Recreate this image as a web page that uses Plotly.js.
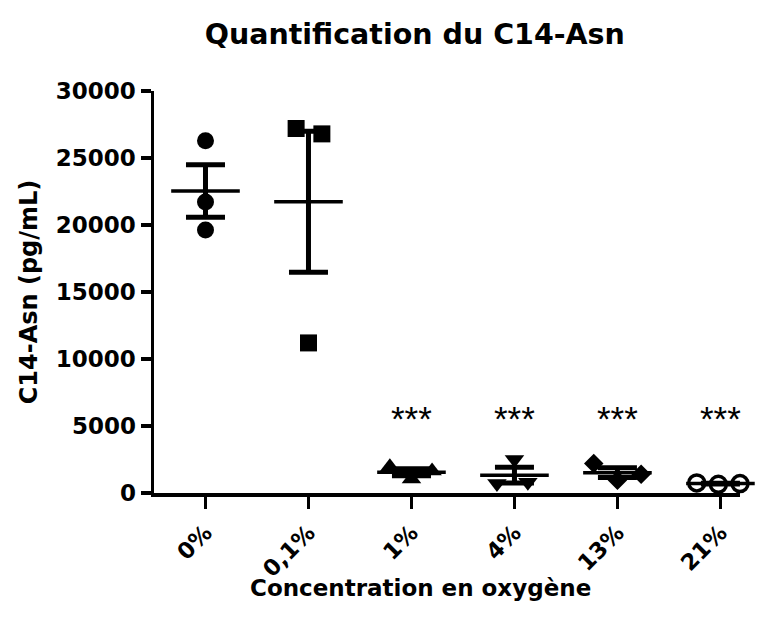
<!DOCTYPE html>
<html>
<head>
<meta charset="utf-8">
<script src="https://cdn.plot.ly/plotly-3.0.1.min.js"></script>
<style>html,body{margin:0;padding:0;background:#fff;}#chart{width:760px;height:623px;}</style>
</head>
<body>
<div id="chart"></div>
<script>
// ---- data ----
const categories = ['0%', '0,1%', '1%', '4%', '13%', '21%'];
const vals0  = [26280, 21710, 19620];
const vals01 = [27200, 26800, 11200];
const vals1  = [1950, 1050, 1650];
const vals4  = [700, 2500, 800];
const vals13 = [2200, 950, 1400];
const vals21 = [750, 650, 700];
const yTickVals = [0, 5000, 10000, 15000, 20000, 25000, 30000];
const yTickText = ['0', '5000', '10000', '15000', '20000', '25000', '30000'];
const starLabel = '***';
const starredGroups = ['1%', '4%', '13%', '21%'];

// ---- style / layout helpers ----
const groups = [vals0, vals01, vals1, vals4, vals13, vals21];
// horizontal spread of replicate points within a column (in category widths)
const spread = [[0, 0, 0], [-0.12, 0.13, 0], [-0.21, 0, 0.2], [-0.17, 0, 0.13], [-0.23, 0, 0.23], [-0.23, -0.02, 0.19]];
const symbols = ['circle', 'square', 'triangle-up', 'triangle-down', 'diamond', 'circle-open'];
const sizes = [17, 17, 17, 17, 15, 16];

function mean(a) { return a.reduce((s, v) => s + v, 0) / a.length; }
function sem(a) {
  const m = mean(a);
  const v = a.reduce((s, x) => s + (x - m) * (x - m), 0) / (a.length - 1);
  return Math.sqrt(v) / Math.sqrt(a.length);
}

const traces = [];
groups.forEach((g, i) => {
  traces.push({
    type: 'scatter', mode: 'markers',
    x: g.map((v, k) => i + spread[i][k]), y: g,
    marker: {symbol: symbols[i], size: sizes[i], color: '#000',
             line: {color: '#000', width: symbols[i].endsWith('open') ? 3.5 : 0}},
    cliponaxis: false, hoverinfo: 'y'
  });
});
traces.push({
  type: 'scatter', mode: 'markers',
  x: categories.map((c, i) => i), y: groups.map(mean),
  marker: {symbol: 'line-ew-open', size: 49, color: '#000', line: {color: '#000', width: 3.5}},
  error_y: {type: 'data', array: groups.map(sem), visible: true, color: '#000', thickness: 5, width: 19.5},
  cliponaxis: false, hoverinfo: 'y'
});

const F = 'DejaVu Sans, Liberation Sans, Arial, sans-serif';
const annotations = starredGroups.map(c => ({
  x: categories.indexOf(c), y: 5550, xref: 'x', yref: 'y', text: starLabel, showarrow: false,
  xanchor: 'center', yanchor: 'middle',
  font: {family: 'Liberation Sans, Arial, sans-serif', size: 35, color: '#000'}
}));
annotations.push({
  text: 'Concentration en oxygène', xref: 'paper', yref: 'paper',
  x: 0.454, y: -0.236, xanchor: 'center', yanchor: 'middle', showarrow: false,
  font: {family: F, size: 23, weight: 'bold', color: '#000'}
});

const layout = {
  width: 760, height: 623,
  margin: {l: 154, r: 20, t: 91, b: 130},
  paper_bgcolor: '#fff', plot_bgcolor: '#fff',
  showlegend: false,
  title: {text: 'Quantification du C14-Asn', x: 0.445, xref: 'paper', xanchor: 'center',
          y: 0.945, yref: 'container', yanchor: 'middle',
          font: {family: F, size: 28.5, weight: 'bold', color: '#000'}},
  xaxis: {
    range: [-0.5, 5.19], tickmode: 'array', tickvals: categories.map((c, i) => i), ticktext: categories,
    tickangle: -45, ticks: 'outside', ticklen: 12, tickwidth: 3.5, tickcolor: '#000',
    ticklabelstandoff: 2,
    showline: true, linewidth: 3.5, linecolor: '#000', zeroline: false, showgrid: false,
    tickfont: {family: F, size: 22.5, weight: 'bold', color: '#000'}
  },
  yaxis: {
    range: [0, 30000], tickmode: 'array', tickvals: yTickVals, ticktext: yTickText,
    ticks: 'outside', ticklen: 10, tickwidth: 3.5, tickcolor: '#000',
    showline: true, linewidth: 3.5, linecolor: '#000', zeroline: false, showgrid: false,
    tickfont: {family: F, size: 23, weight: 'bold', color: '#000'},
    title: {text: 'C14-Asn (pg/mL)', standoff: 12, font: {family: F, size: 24, weight: 'bold', color: '#000'}}
  },
  annotations: annotations
};

Plotly.newPlot('chart', traces, layout, {displayModeBar: false, staticPlot: true});
</script>
</body>
</html>
